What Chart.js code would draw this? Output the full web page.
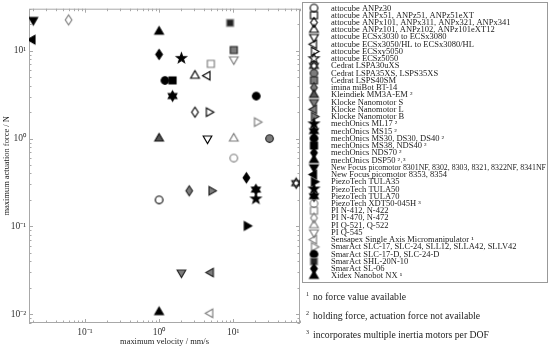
<!DOCTYPE html>
<html><head><meta charset="utf-8">
<script src="https://cdn.jsdelivr.net/npm/chart.js@4"></script>
<style>html,body{margin:0;padding:0;background:#fff}</style>
</head><body><canvas id="c" width="550" height="359"></canvas>
<script>
// ---- data ----
const seriesLabels = [
 "attocube ANPz30","attocube ANPx51, ANPz51, ANPz51eXT","attocube ANPx101, ANPx311, ANPx321, ANPx341",
 "attocube ANPz101, ANPz102, ANPz101eXT12","attocube ECSx3030 to ECSx3080","attocube ECSx3050/HL to ECSx3080/HL",
 "attocube ECSxy5050","attocube ECSz5050","Cedrat LSPA30uXS","Cedrat LSPA35XS, LSPS35XS","Cedrat LSPS40SM",
 "imina miBot BT-14","Kleindiek MM3A-EM \u00b2","Klocke Nanomotor S","Klocke Nanomotor L","Klocke Nanomotor B",
 "mechOnics ML17 \u00b2","mechOnics MS15 \u00b2","mechOnics MS30, DS30, DS40 \u00b2","mechOnics MS38, NDS40 \u00b2",
 "mechOnics NDS70 \u00b2","mechOnics DSP50 \u00b2\u02d2\u00b3","New Focus picomotor 8301NF, 8302, 8303, 8321, 8322NF, 8341NF",
 "New Focus picomotor 8353, 8354","PiezoTech TULA35","PiezoTech TULA50","PiezoTech TULA70","PiezoTech XDT50-045H \u00b3",
 "PI N-412, N-422","PI N-470, N-472","PI Q-521, Q-522","PI Q-545","Sensapex Single Axis Micromanipulator \u00b9",
 "SmarAct SLC-17, SLC-24, SLL12, SLLA42, SLLV42","SmarAct SLC-17-D, SLC-24-D","SmarAct SHL-20N-10","SmarAct SL-06",
 "Xidex Nanobot NX \u00b9"
];
// maximum velocity / mm/s
const velocity = [
 [1.0],[],[3.05],[3.05],[4.5],[4.5],[4.7],[],[71],[31],[10.2],
 [2.55],[1.0],[2.0],[5.0],[5.1],
 [2.0],[1.52],[1.2],[1.52],[1.0],[1.0],[0.020],[0.0195],
 [15.3],[20.3],[20.3],[10.2],
 [5.0],[0.060],[10.2],[10.2],[4.9],[21],[20.5],[9.1],[15.1],[1.0]
];
// maximum actuation force / N
const force = [
 [0.2],[],[2.0],[5.2],[1.0],[5.2],[2.0],[],[0.31],[1.0],[10.2],
 [0.254],[1.0],[0.0297],[0.0297],[0.254],
 [8.2],[3.05],[4.6],[4.6],[9.1],[16.5],[22.5],[13.4],
 [0.101],[0.205],[0.262],[0.6],
 [7.1],[22.5],[1.0],[8.0],[0.0102],[1.54],[3.05],[20.8],[0.357],[0.0105]
];
const footnotes = ["no force value available","holding force, actuation force not available","incorporates multiple inertia motors per DOF"];
const footMarks = ["1","2","3"];
const xTitle = 'maximum velocity / mm/s';
const yTitle = 'maximum actuation force / N';

// ---- styles ----
const FAM = '"Liberation Serif"';
const K='#000', G='#7c7c7c', N='rgba(0,0,0,0)';
const shapes = ['circle','square','diamond','up','down','left','right','star','hex','circle','square',
 'diamond','up','down','left','right','star','hex','circle','square','diamond','up','down','left',
 'right','star','hex','circle','square','diamond','up','down','left','right','circle','square','diamond','up'];
const fills = [N,N,N,N,N,N,N,N,N,G,G, G,'#555',G,G,G, K,K,K,K,K,K,K,K, K,K,K,N, N,N,N,N,N,N,K,'#222',K,K];
const strokes=[K,K,K,K,K,K,K,K,K,'#222','#222', '#222','#111','#222','#222','#222', K,K,K,K,K,K,K,K, K,K,K,G, G,G,G,G,G,G,K,'#888',K,K];

const mctx = document.createElement('canvas').getContext('2d');
function fitSize(text, target){ mctx.font = '10px '+FAM; return 10*target/mctx.measureText(text).width; }
const legendSize = 7.6, legendStretch = 1.12;
const legendMaxW = 215;
const footSize = fitSize(footnotes[2], 176);
const titleSize = fitSize(xTitle, 89);

function makeMarker(shape, fill, stroke){
  const s=15, c=document.createElement('canvas'); c.width=s; c.height=s;
  const g=c.getContext('2d'); g.translate(s/2,s/2); g.lineWidth=1.15; g.fillStyle=fill; g.strokeStyle=stroke;
  const poly=(pts)=>{g.beginPath(); pts.forEach((p,i)=>i?g.lineTo(p[0],p[1]):g.moveTo(p[0],p[1])); g.closePath(); g.fill(); g.stroke();};
  const tri=(a)=>{const r=5.0, pts=[]; for(let k=0;k<3;k++){const t=a+k*2*Math.PI/3; pts.push([r*Math.cos(t), r*Math.sin(t)]);} return pts;};
  switch(shape){
    case 'circle': g.beginPath(); g.arc(0,0,3.8,0,Math.PI*2); g.fill(); g.stroke(); break;
    case 'square': poly([[-3.5,-3.5],[3.5,-3.5],[3.5,3.5],[-3.5,3.5]]); break;
    case 'diamond': poly([[0,-5],[3.3,0],[0,5],[-3.3,0]]); break;
    case 'up': poly(tri(-Math.PI/2)); break;
    case 'down': poly(tri(Math.PI/2)); break;
    case 'left': poly(tri(Math.PI)); break;
    case 'right': poly(tri(0)); break;
    case 'star': { const pts=[]; for(let k=0;k<10;k++){const r=k%2?2.1:5.2, t=-Math.PI/2+k*Math.PI/5; pts.push([r*Math.cos(t), r*Math.sin(t)]);} poly(pts); break; }
    case 'hex': poly(tri(-Math.PI/2)); poly(tri(Math.PI/2)); break;
  }
  return c;
}
const markers = shapes.map((sh,i)=>makeMarker(sh, fills[i], strokes[i]));

const datasets = seriesLabels.map((lab,i)=>({
  label: lab,
  data: velocity[i].map((x,j)=>({x:x, y:force[i][j]})),
  pointStyle: markers[i], pointRadius: 4.5, showLine:false
}));

const supMap={'-':'\u207b','0':'\u2070','1':'\u00b9','2':'\u00b2','3':'\u00b3'};
const decadeLabel = v => { const l=Math.log10(v); if (Math.abs(l-Math.round(l))>1e-6) return ''; return '10'+String(Math.round(l)).split('').map(ch=>supMap[ch]).join(''); };

const AXC='#a8a8a8';
const framePlugin = {
  id:'frame',
  beforeDatasetsDraw(chart){
    const {ctx, chartArea:a, scales:{x,y}} = chart;
    ctx.save(); ctx.strokeStyle=AXC; ctx.lineWidth=1;
    ctx.strokeRect(a.left+0.5, a.top+0.5, a.right-a.left-1, a.bottom-a.top-1);
    ctx.beginPath();
    for(let d=-3; d<=3; d++) for(let m=1;m<10;m++){
      const v=m*Math.pow(10,d), L = m===1?4:2.5;
      if (v>=x.min && v<=x.max){ const px=Math.round(x.getPixelForValue(v))+0.5;
        ctx.moveTo(px,a.bottom); ctx.lineTo(px,a.bottom-L); ctx.moveTo(px,a.top); ctx.lineTo(px,a.top+L); }
      if (v>=y.min && v<=y.max){ const py=Math.round(y.getPixelForValue(v))+0.5;
        ctx.moveTo(a.left,py); ctx.lineTo(a.left+L,py); ctx.moveTo(a.right,py); ctx.lineTo(a.right-L,py); }
    }
    ctx.stroke(); ctx.restore();
  },
  afterDraw(chart){
    const ctx=chart.ctx; ctx.save();
    const bx=302, by=2, bw=246, bh=281;
    ctx.fillStyle='#fff'; ctx.fillRect(bx,by,bw,bh);
    ctx.strokeStyle='#999'; ctx.lineWidth=1; ctx.strokeRect(bx+0.5,by+0.5,bw-1,bh-1);
    ctx.fillStyle='#222'; ctx.textBaseline='middle';
    ctx.font = legendSize+'px '+FAM;
    chart.data.datasets.forEach((ds,i)=>{
      const yy = 8 + i*7.24;
      ctx.drawImage(ds.pointStyle, 314-7.5, yy-7.5);
      const w = ctx.measureText(ds.label).width * legendStretch;
      ctx.save(); ctx.translate(331, yy+0.5);
      ctx.scale(legendStretch * (w > legendMaxW ? legendMaxW/w : 1), 1);
      ctx.fillText(ds.label, 0, 0); ctx.restore();
    });
    footnotes.forEach((t,i)=>{
      const yy=297+i*19;
      ctx.font='6px '+FAM; ctx.fillText(footMarks[i], 306, yy-2.5);
      ctx.font=footSize.toFixed(2)+'px '+FAM; ctx.fillText(t, 313, yy);
    });
    ctx.restore();
  }
};

new Chart(document.getElementById('c'), {
  type:'scatter',
  data:{datasets},
  options:{
    responsive:false, animation:false,
    layout:{padding:{left:2, top:3, right:250, bottom:12}},
    plugins:{legend:{display:false}, tooltip:{enabled:false}},
    scales:{
      x:{type:'logarithmic', min:0.0175, max:80,
        grid:{display:false, drawTicks:false}, border:{display:false},
        ticks:{autoSkip:false, maxRotation:0, padding:4, color:'#333', font:{family:'Liberation Serif', size:9.5}, callback:(v)=>decadeLabel(v)},
        title:{display:true, text:xTitle, color:'#222', font:{family:'Liberation Serif', size:titleSize}, padding:{top:0,bottom:0}},
        afterFit:(s)=>{s.height=24;}
      },
      y:{type:'logarithmic', min:0.0079, max:30.2,
        grid:{display:false, drawTicks:false}, border:{display:false},
        ticks:{autoSkip:false, padding:3, color:'#333', font:{family:'Liberation Serif', size:9.5}, callback:(v)=>decadeLabel(v)},
        title:{display:true, text:yTitle, color:'#222', font:{family:'Liberation Serif', size:titleSize}, padding:{top:0,bottom:0}},
        afterFit:(s)=>{s.width=27;}
      }
    }
  },
  plugins:[framePlugin]
});
</script></body></html>
